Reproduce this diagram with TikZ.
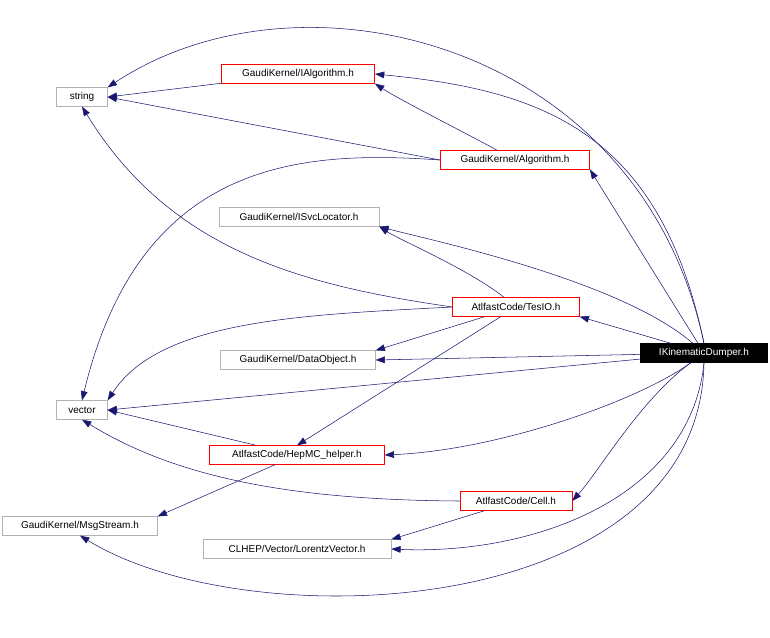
\documentclass[tikz,border=0pt]{standalone}
\usepackage{fontspec}
\setmainfont{Liberation Sans}
\usetikzlibrary{arrows.meta}
\definecolor{edgeblue}{HTML}{191970}
\tikzset{
  file/.style={draw=black!30, fill=white, inner sep=0pt, minimum height=14pt, font=\fontsize{7.5}{9}\selectfont},
  redfile/.style={file, draw=red},
  top/.style={file, draw=black, fill=black, text=white},
  dep/.style={draw=edgeblue, -{Triangle[width=5pt,length=7pt]}}
}
\begin{document}
\begin{tikzpicture}[x=0.75pt, y=-0.75pt]
  \useasboundingbox (0,0) rectangle (770,637);
  % Nodes
  \node[file, minimum width=38pt] (string) at (82,97) {string};
  \node[redfile, minimum width=115pt] (ialg) at (298,74) {GaudiKernel/IAlgorithm.h};
  \node[redfile, minimum width=112pt] (alg) at (515,160) {GaudiKernel/Algorithm.h};
  \node[file, minimum width=120pt] (isvc) at (299,217) {GaudiKernel/ISvcLocator.h};
  \node[redfile, minimum width=95pt] (tesio) at (516,307) {AtlfastCode/TesIO.h};
  \node[top, minimum width=95pt] (dumper) at (704,353) {IKinematicDumper.h};
  \node[file, minimum width=116pt] (dataobj) at (298,360) {GaudiKernel/DataObject.h};
  \node[file, minimum width=38pt] (vector) at (82,410) {vector};
  \node[redfile, minimum width=131pt] (hepmc) at (297,455) {AtlfastCode/HepMC\_helper.h};
  \node[redfile, minimum width=84pt] (cell) at (516,501) {AtlfastCode/Cell.h};
  \node[file, minimum width=116pt] (msg) at (80,526) {GaudiKernel/MsgStream.h};
  \node[file, minimum width=141pt] (lorentz) at (297,549) {CLHEP/Vector/LorentzVector.h};

  % Connections from IKinematicDumper.h
  \draw[dep] (dumper.north) .. controls (640,40) and (300,-40) .. (string.north east);
  \draw[dep] (dumper.north) .. controls (660,130) and (540,90) .. (ialg.east);
  \draw[dep] (dumper) -- (alg.south east);
  \draw[dep] (dumper) .. controls (620,280) and (430,240) .. (isvc.south east);
  \draw[dep] (dumper) -- (tesio.south east);
  \draw[dep] (dumper) -- (dataobj.east);
  \draw[dep] (dumper) -- (vector.east);
  \draw[dep] (dumper) .. controls (640,400) and (500,450) .. (hepmc.east);
  \draw[dep] (dumper) .. controls (640,400) and (600,470) .. (cell.east);
  \draw[dep] (dumper.south) .. controls (690,500) and (530,555) .. (lorentz.east);
  \draw[dep] (dumper.south) .. controls (700,620) and (250,640) .. (msg.south);

  % Connections between headers
  \draw[dep] (ialg) -- (string.east);
  \draw[dep] (alg.west) -- (string.east);
  \draw[dep] (alg) .. controls (460,130) and (400,100) .. (ialg.south east);
  \draw[dep] (alg.west) .. controls (300,150) and (140,160) .. (vector.north);
  \draw[dep] (tesio.west) .. controls (300,285) and (170,250) .. (string.south);
  \draw[dep] (tesio) .. controls (470,270) and (400,240) .. (isvc.south east);
  \draw[dep] (tesio) -- (dataobj.north east);
  \draw[dep] (tesio.west) .. controls (300,315) and (160,320) .. (vector.north east);
  \draw[dep] (tesio) -- (hepmc.north);
  \draw[dep] (hepmc) -- (vector.east);
  \draw[dep] (hepmc) -- (msg.north east);
  \draw[dep] (cell.west) .. controls (300,500) and (180,480) .. (vector.south);
  \draw[dep] (cell) -- (lorentz.north east);
\end{tikzpicture}
\end{document}
